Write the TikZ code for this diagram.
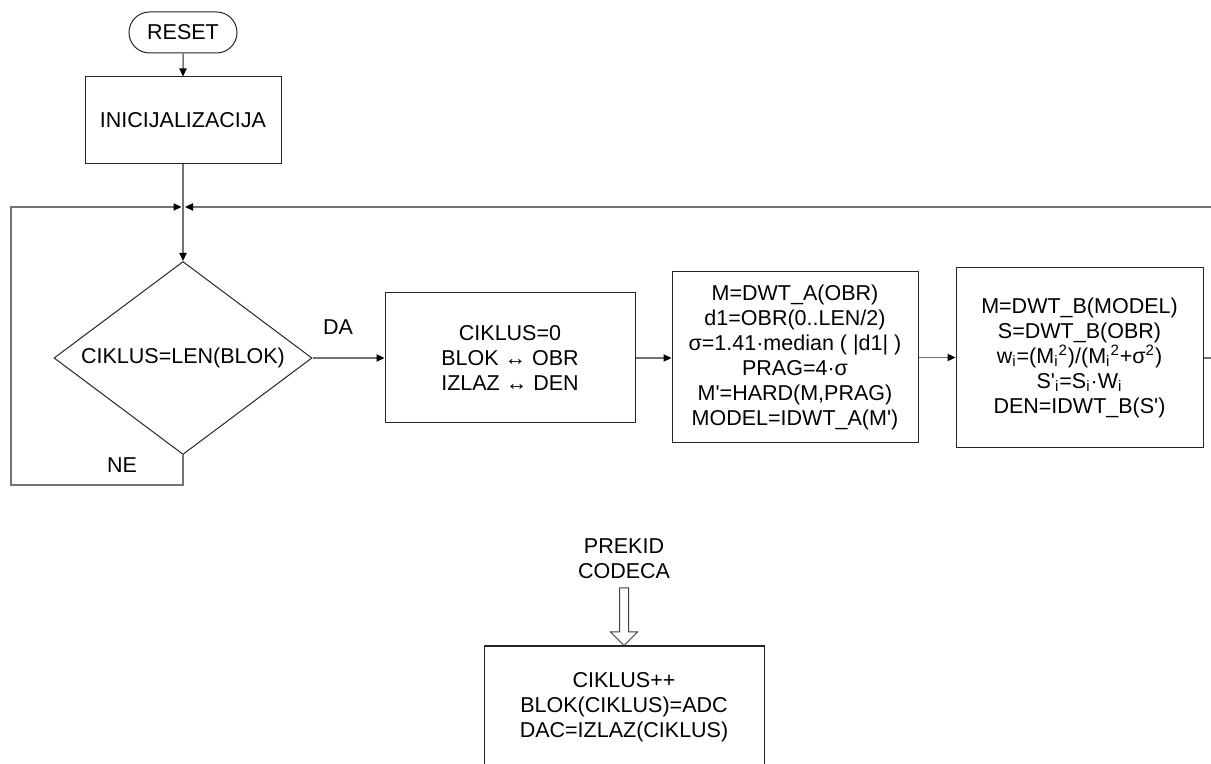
\documentclass[tikz,border=0pt]{standalone}
\usepackage{fontspec}
\setmainfont{Liberation Sans}
\usetikzlibrary{arrows.meta}
\usetikzlibrary{shapes.geometric,shapes.misc}

\newcommand{\q}{\textquotesingle}

\begin{document}
\begin{tikzpicture}[x=0.5pt,y=-0.5pt,
        font=\fontsize{10.75}{12.5}\selectfont,
        box/.style={draw=black!85,line width=0.5pt,rectangle,align=center,inner sep=0pt},
        conn/.style={draw=black!55,line width=0.75pt},
        tip/.style={-{Triangle[length=4pt,width=3.6pt,color=black]}}]
    \useasboundingbox (0,0) rectangle (1211,764);
    % glavna petlja
    \node[box,rounded rectangle,minimum width=54pt,minimum height=20.5pt] (reset) at (183,32.5) {RESET};
    \node[box,minimum width=98pt,minimum height=43.5pt] (init) at (183,120.5) {INICIJALIZACIJA};
    \coordinate (jn) at (183,207);
    \coordinate (edge) at (1211,207);
    \coordinate (loopl) at (11,207);
    \node[box,diamond,minimum width=129pt,minimum height=96.5pt,
        label={[name=condtxt]center:CIKLUS=LEN(BLOK)}] (cond) at (183,358) {};
    \node[box,minimum width=125pt,minimum height=65pt] (swap) at (510,358)
        {CIKLUS=0\\BLOK ↔ OBR\\IZLAZ ↔ DEN};
    \node[box,minimum width=123pt,minimum height=85.5pt] (model) at (795,357.5)
        {M=DWT\_A(OBR)\\d1=OBR(0..LEN/2)\\σ=1.41·median ( |d1| )\\PRAG=4·σ\\M\q=HARD(M,PRAG)\\MODEL=IDWT\_A(M\q)};
    \node[box,minimum width=123.5pt,minimum height=90pt] (den) at (1079.5,358)
        {M=DWT\_B(MODEL)\\S=DWT\_B(OBR)\\w\textsubscript{i}=(M\textsubscript{i}\textsuperscript{2})/(M\textsubscript{i}\textsuperscript{2}+σ\textsuperscript{2})\\S\q\textsubscript{i}=S\textsubscript{i}·W\textsubscript{i}\\DEN=IDWT\_B(S\q)};
    \node (da) at (338,327) {DA};
    \node (ne) at (122,465) {NE};
    \draw[conn,tip] (reset) -- (init);
    \draw[conn,tip] (init) -- (cond);
    \draw[conn,tip] (cond) -- (swap);
    \draw[conn,tip] (swap.east) -- (swap.east -| model.west);
    \draw[conn,tip] (model.east) -- (model.east -| den.west);
    \draw[conn] (den.east) -- (den.east -| edge);
    \draw[conn,tip] (edge) -- ([xshift=1pt]jn);
    \draw[conn,tip] (cond.south) -- ++(0,30) -| (loopl) -- ([xshift=-0.75pt]jn);
    % prekid
    \node[box,minimum width=140pt,minimum height=61pt] (irq) at (624,707)
        {CIKLUS++\\BLOK(CIKLUS)=ADC\\DAC=IZLAZ(CIKLUS)};
    \node[align=center] (prekid) at (624,558.5) {PREKID\\CODECA};
    \draw[black!75,line width=0.5pt,fill=white] (irq.north) -- ++(-13.5,-13.5) -- ++(9,0)
        -- ++(0,-44) -- ++(9,0) -- ++(0,44) -- ++(9,0) -- cycle;
\end{tikzpicture}
\end{document}
